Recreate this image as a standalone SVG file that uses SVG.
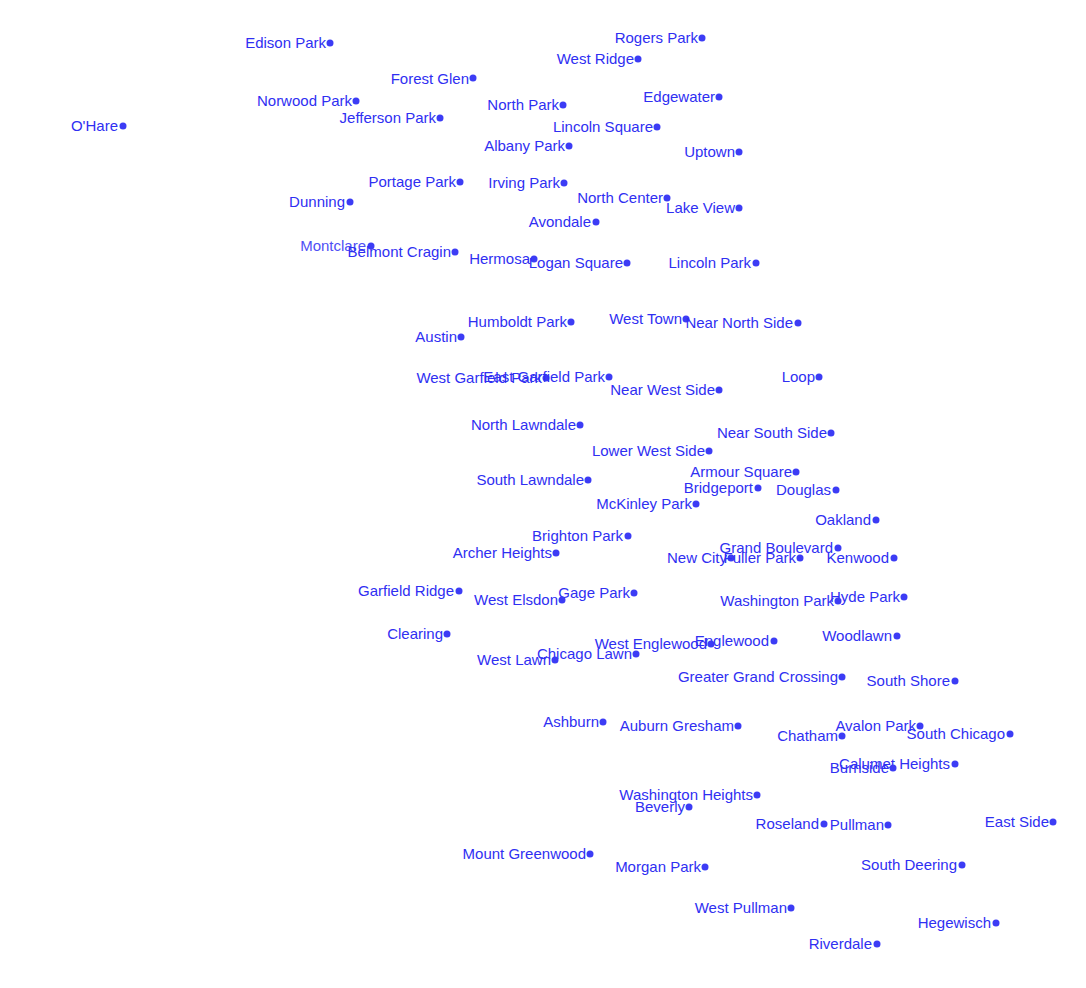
<svg xmlns="http://www.w3.org/2000/svg" width="1086" height="988" viewBox="0 0 1086 988">
<style>
text{font-family:"Liberation Sans",Arial,sans-serif;font-size:15px;fill:#2f2ff2;text-anchor:end}
circle{fill:#3c3cf5;r:3.5px}
</style>
<rect width="1086" height="988" fill="#fff"/>
<g id="connectors"/>
<g id="n1"><circle cx="330" cy="43"/><text x="326" y="48">Edison Park</text></g>
<g id="n2"><circle cx="702" cy="38"/><text x="698" y="43">Rogers Park</text></g>
<g id="n3"><circle cx="638" cy="59"/><text x="634" y="64">West Ridge</text></g>
<g id="n4"><circle cx="473" cy="78"/><text x="469" y="84">Forest Glen</text></g>
<g id="n5"><circle cx="719" cy="97"/><text x="715" y="102">Edgewater</text></g>
<g id="n6"><circle cx="356" cy="101"/><text x="352" y="106">Norwood Park</text></g>
<g id="n7"><circle cx="563" cy="105"/><text x="559" y="110">North Park</text></g>
<g id="n8"><circle cx="440" cy="118"/><text x="436" y="123">Jefferson Park</text></g>
<g id="n9"><circle cx="123" cy="126"/><text x="118" y="131">O'Hare</text></g>
<g id="n10"><circle cx="657" cy="127"/><text x="653" y="132">Lincoln Square</text></g>
<g id="n11"><circle cx="569" cy="146"/><text x="565" y="151">Albany Park</text></g>
<g id="n12"><circle cx="739" cy="152"/><text x="735" y="157">Uptown</text></g>
<g id="n13"><circle cx="460" cy="182"/><text x="456" y="187">Portage Park</text></g>
<g id="n14"><circle cx="564" cy="183"/><text x="560" y="188">Irving Park</text></g>
<g id="n15"><circle cx="667" cy="198"/><text x="663" y="203">North Center</text></g>
<g id="n16"><circle cx="350" cy="202"/><text x="345" y="207">Dunning</text></g>
<g id="n17"><circle cx="739" cy="208"/><text x="735" y="213">Lake View</text></g>
<g id="n18"><circle cx="596" cy="222"/><text x="591" y="227">Avondale</text></g>
<g id="n19"><circle cx="371" cy="246"/><text x="366" y="251" style="fill:#4f4ff5">Montclare</text></g>
<g id="n20"><circle cx="455" cy="252"/><text x="451" y="257">Belmont Cragin</text></g>
<g id="n21"><circle cx="534" cy="259"/><text x="530" y="264">Hermosa</text></g>
<g id="n22"><circle cx="627" cy="263"/><text x="623" y="268">Logan Square</text></g>
<g id="n23"><circle cx="756" cy="263"/><text x="751" y="268">Lincoln Park</text></g>
<g id="n24"><circle cx="571" cy="322"/><text x="567" y="327">Humboldt Park</text></g>
<g id="n25"><circle cx="686" cy="319"/><text x="682" y="324">West Town</text></g>
<g id="n26"><circle cx="798" cy="323"/><text x="793" y="328">Near North Side</text></g>
<g id="n27"><circle cx="461" cy="337"/><text x="457" y="342">Austin</text></g>
<g id="n28"><circle cx="546" cy="378"/><text x="542" y="383">West Garfield Park</text></g>
<g id="n29"><circle cx="609" cy="377"/><text x="605" y="382">East Garfield Park</text></g>
<g id="n30"><circle cx="819" cy="377"/><text x="815" y="382">Loop</text></g>
<g id="n31"><circle cx="719" cy="390"/><text x="715" y="395">Near West Side</text></g>
<g id="n32"><circle cx="580" cy="425"/><text x="576" y="430">North Lawndale</text></g>
<g id="n33"><circle cx="831" cy="433"/><text x="827" y="438">Near South Side</text></g>
<g id="n34"><circle cx="709" cy="451"/><text x="705" y="456">Lower West Side</text></g>
<g id="n35"><circle cx="796" cy="472"/><text x="792" y="477">Armour Square</text></g>
<g id="n36"><circle cx="588" cy="480"/><text x="584" y="485">South Lawndale</text></g>
<g id="n37"><circle cx="758" cy="488"/><text x="753" y="493">Bridgeport</text></g>
<g id="n38"><circle cx="836" cy="490"/><text x="831" y="495">Douglas</text></g>
<g id="n39"><circle cx="696" cy="504"/><text x="692" y="509">McKinley Park</text></g>
<g id="n40"><circle cx="876" cy="520"/><text x="871" y="525">Oakland</text></g>
<g id="n41"><circle cx="628" cy="536"/><text x="623" y="541">Brighton Park</text></g>
<g id="n42"><circle cx="838" cy="548"/><text x="833" y="553">Grand Boulevard</text></g>
<g id="n43"><circle cx="556" cy="553"/><text x="552" y="558">Archer Heights</text></g>
<g id="n44"><circle cx="731" cy="558"/><text x="727" y="563">New City</text></g>
<g id="n45"><circle cx="800" cy="558"/><text x="796" y="563">Fuller Park</text></g>
<g id="n46"><circle cx="894" cy="558"/><text x="889" y="563">Kenwood</text></g>
<g id="n47"><circle cx="459" cy="591"/><text x="454" y="596">Garfield Ridge</text></g>
<g id="n48"><circle cx="634" cy="593"/><text x="630" y="598">Gage Park</text></g>
<g id="n49"><circle cx="904" cy="597"/><text x="900" y="602">Hyde Park</text></g>
<g id="n50"><circle cx="562" cy="600"/><text x="558" y="605">West Elsdon</text></g>
<g id="n51"><circle cx="838" cy="601"/><text x="834" y="606">Washington Park</text></g>
<g id="n52"><circle cx="447" cy="634"/><text x="443" y="639">Clearing</text></g>
<g id="n53"><circle cx="897" cy="636"/><text x="892" y="641">Woodlawn</text></g>
<g id="n54"><circle cx="774" cy="641"/><text x="769" y="646">Englewood</text></g>
<g id="n55"><circle cx="711" cy="644"/><text x="707" y="649">West Englewood</text></g>
<g id="n56"><circle cx="636" cy="654"/><text x="632" y="659">Chicago Lawn</text></g>
<g id="n57"><circle cx="555" cy="660"/><text x="551" y="665">West Lawn</text></g>
<g id="n58"><circle cx="842" cy="677"/><text x="838" y="682">Greater Grand Crossing</text></g>
<g id="n59"><circle cx="955" cy="681"/><text x="950" y="686">South Shore</text></g>
<g id="n60"><circle cx="603" cy="722"/><text x="599" y="727">Ashburn</text></g>
<g id="n61"><circle cx="738" cy="726"/><text x="734" y="731">Auburn Gresham</text></g>
<g id="n62"><circle cx="920" cy="726"/><text x="916" y="731">Avalon Park</text></g>
<g id="n63"><circle cx="1010" cy="734"/><text x="1005" y="739">South Chicago</text></g>
<g id="n64"><circle cx="842" cy="736"/><text x="838" y="741">Chatham</text></g>
<g id="n65"><circle cx="955" cy="764"/><text x="950" y="769">Calumet Heights</text></g>
<g id="n66"><circle cx="893" cy="768"/><text x="889" y="773">Burnside</text></g>
<g id="n67"><circle cx="757" cy="795"/><text x="753" y="800">Washington Heights</text></g>
<g id="n68"><circle cx="689" cy="807"/><text x="685" y="812">Beverly</text></g>
<g id="n69"><circle cx="1053" cy="822"/><text x="1049" y="827">East Side</text></g>
<g id="n70"><circle cx="824" cy="824"/><text x="819" y="829">Roseland</text></g>
<g id="n71"><circle cx="888" cy="825"/><text x="884" y="830">Pullman</text></g>
<g id="n72"><circle cx="590" cy="854"/><text x="586" y="859">Mount Greenwood</text></g>
<g id="n73"><circle cx="962" cy="865"/><text x="957" y="870">South Deering</text></g>
<g id="n74"><circle cx="705" cy="867"/><text x="701" y="872">Morgan Park</text></g>
<g id="n75"><circle cx="791" cy="908"/><text x="787" y="913">West Pullman</text></g>
<g id="n76"><circle cx="996" cy="923"/><text x="991" y="928">Hegewisch</text></g>
<g id="n77"><circle cx="877" cy="944"/><text x="872" y="949">Riverdale</text></g>
</svg>
